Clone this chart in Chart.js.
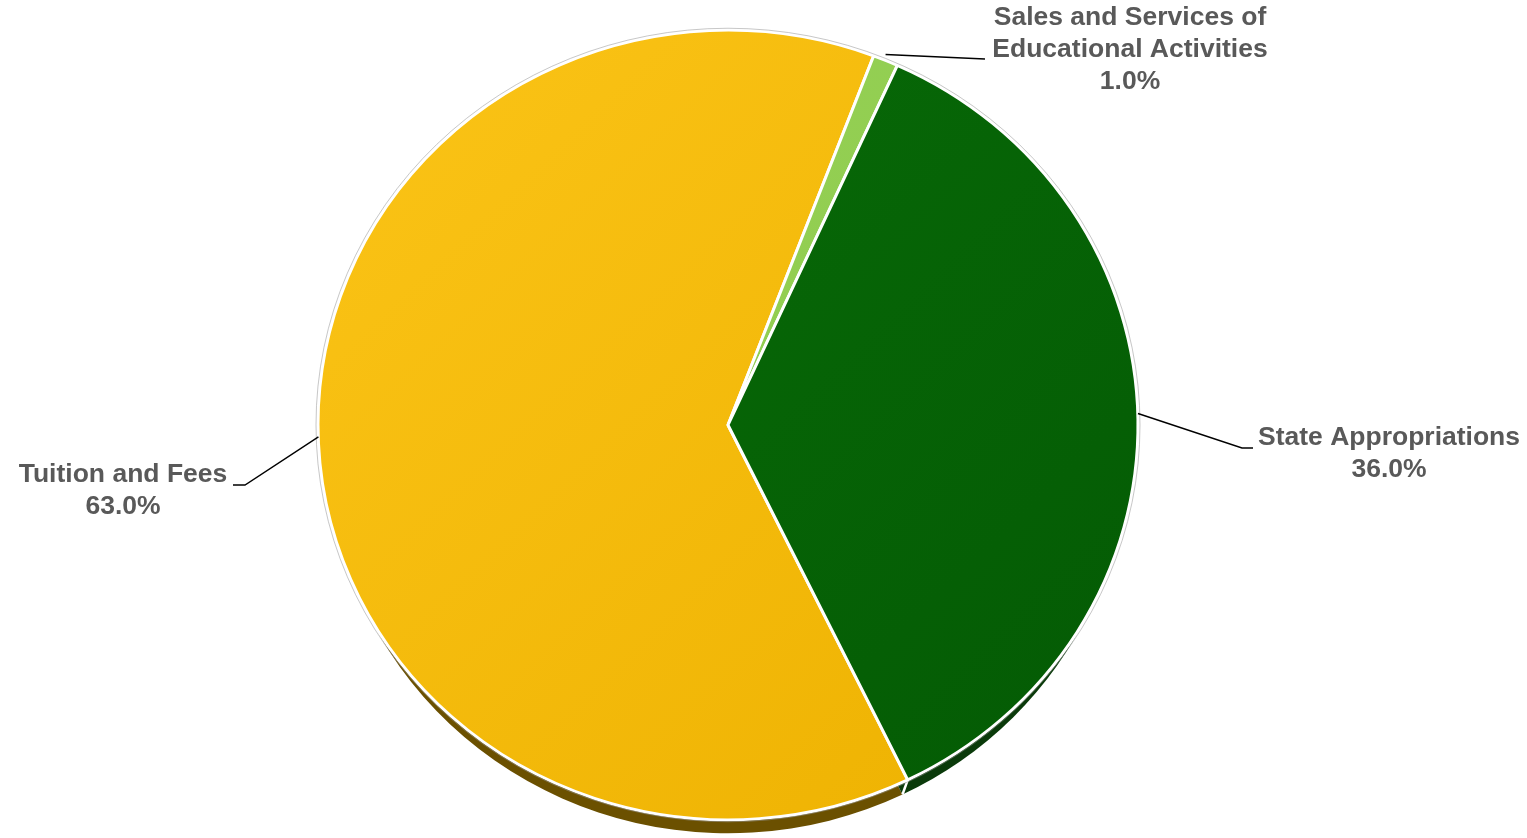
<!DOCTYPE html>
<html>
<head>
<meta charset="utf-8">
<title>Revenue Sources</title>
<script src="https://cdn.jsdelivr.net/npm/chart.js@4/dist/chart.umd.min.js"></script>
<style>
  html, body { margin: 0; padding: 0; background: #ffffff; }
  #wrap { width: 1527px; height: 838px; position: relative; }
</style>
</head>
<body>
<div id="wrap"><canvas id="pie"></canvas></div>
<script>
// Revenue categories and their shares (percent)
const categories = ['Tuition and Fees', 'Sales and Services of Educational Activities', 'State Appropriations'];
const labelLines = [['Tuition and Fees'], ['Sales and Services of', 'Educational Activities'], ['State Appropriations']];
const shares = [63.0, 1.0, 36.0];

// Face colours (light -> dark gradient stops) and the darker side-wall colours
const faceStops = [['#fbc417', '#edb100'], ['#97d257', '#8cc94a'], ['#086d08', '#045a04']];
const sideColors = ['#6b5000', '#4a7a22', '#0a3a0a'];

// Label placement: text centre, leader elbow and end
const labelLayout = [
  { x: 123,  y: 475, elbow: [245, 485], end: [233, 485] },
  { x: 1130, y: 18,  elbow: null,       end: [985, 59] },
  { x: 1389, y: 438, elbow: [1242, 448], end: [1253, 448] }
];

const TILT = 0.963;    // vertical squash of the pie face
const WALL_DROP = 25;  // downward shift of the wall outline, px
const WALL_INSET = 12; // wall outline radius inset, keeps the wall hidden at the sides
const RADIUS = 410;
const LINE_H = 32;

function faceFill(context) {
  const chart = context.chart;
  const area = chart.chartArea;
  const i = context.dataIndex;
  if (!area) return faceStops[i][0];
  const g = chart.ctx.createLinearGradient(area.left, area.top, area.right, area.bottom);
  g.addColorStop(0, faceStops[i][0]);
  g.addColorStop(1, faceStops[i][1]);
  return g;
}

const tiltedPie = {
  id: 'tiltedPie',
  beforeDatasetsDraw(chart) {
    const meta = chart.getDatasetMeta(0);
    const c = chart.ctx;
    const cx = meta.data[0].x, cy = meta.data[0].y;
    c.save();
    c.translate(cx, cy);
    c.scale(1, TILT);
    c.translate(-cx, -cy);
    const d = WALL_DROP / TILT;
    // side walls: a slightly smaller copy of each slice shifted downward, drawn underneath
    meta.data.forEach((arc, i) => {
      const p = arc.getProps(['startAngle', 'endAngle', 'outerRadius'], true);
      c.beginPath();
      c.moveTo(cx, cy + d);
      c.arc(cx, cy + d, p.outerRadius - WALL_INSET, p.startAngle, p.endAngle);
      c.closePath();
      c.fillStyle = sideColors[i];
      c.fill();
    });
    // white seams on the wall where slices meet
    c.strokeStyle = '#ffffff';
    c.lineWidth = 2.5;
    meta.data.forEach((arc) => {
      const p = arc.getProps(['startAngle', 'outerRadius'], true);
      const ca = Math.cos(p.startAngle), sa = Math.sin(p.startAngle);
      c.beginPath();
      c.moveTo(cx + p.outerRadius * ca, cy + p.outerRadius * sa);
      c.lineTo(cx + (p.outerRadius - WALL_INSET) * ca, cy + d + (p.outerRadius - WALL_INSET) * sa);
      c.stroke();
    });
  },
  afterDatasetsDraw(chart) {
    const meta = chart.getDatasetMeta(0);
    const c = chart.ctx;
    const cx = meta.data[0].x, cy = meta.data[0].y;
    const r = meta.data[0].outerRadius;
    // faint grey rim around the face
    c.beginPath();
    c.arc(cx, cy, r + 2, 0, Math.PI * 2);
    c.strokeStyle = 'rgba(150,150,150,0.55)';
    c.lineWidth = 1;
    c.stroke();
    c.restore();
  },
  afterDraw(chart) {
    const meta = chart.getDatasetMeta(0);
    const c = chart.ctx;
    const cx = meta.data[0].x, cy = meta.data[0].y;
    c.save();
    meta.data.forEach((arc, i) => {
      const p = arc.getProps(['startAngle', 'endAngle', 'outerRadius'], true);
      const mid = (p.startAngle + p.endAngle) / 2;
      const sx = cx + p.outerRadius * Math.cos(mid);
      const sy = cy + p.outerRadius * Math.sin(mid) * TILT - 6;
      const L = labelLayout[i];
      // leader line
      c.beginPath();
      c.moveTo(sx, sy);
      if (L.elbow) c.lineTo(L.elbow[0], L.elbow[1]);
      c.lineTo(L.end[0], L.end[1]);
      c.strokeStyle = '#000000';
      c.lineWidth = 1.4;
      c.stroke();
      // label text
      const lines = labelLines[i].concat([shares[i].toFixed(1) + '%']);
      c.font = 'bold 26.5px "Liberation Sans", Arial, sans-serif';
      c.fillStyle = '#595959';
      c.textAlign = 'center';
      c.textBaseline = 'middle';
      lines.forEach((t, k) => c.fillText(t, L.x, L.y + k * LINE_H));
    });
    c.restore();
  }
};

new Chart(document.getElementById('pie'), {
  type: 'pie',
  data: {
    labels: categories,
    datasets: [{
      data: shares,
      backgroundColor: faceFill,
      borderColor: '#ffffff',
      borderWidth: 3,
      radius: RADIUS
    }]
  },
  options: {
    responsive: true,
    maintainAspectRatio: false,
    animation: false,
    events: [],
    rotation: 154,
    layout: { padding: { left: 318, right: 389, top: 15, bottom: 3 } },
    plugins: { legend: { display: false }, tooltip: { enabled: false } }
  },
  plugins: [tiltedPie]
});
</script>
</body>
</html>
